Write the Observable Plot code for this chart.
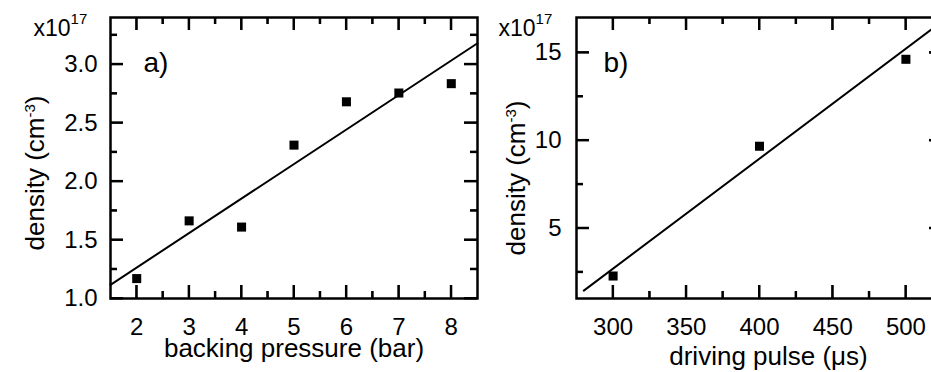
<!DOCTYPE html>
<html><head><meta charset="utf-8">
<script src="https://cdn.jsdelivr.net/npm/d3@7"></script>
<script src="https://cdn.jsdelivr.net/npm/@observablehq/plot@0.6"></script>
<style>
html,body{margin:0;padding:0;background:#fff;overflow:hidden;}
#wrap{position:relative;width:931px;height:372px;overflow:hidden;}
#a,#b{position:absolute;top:0;height:372px;}
#a{left:0;width:490px;}
#b{left:470px;width:500px;}
svg{max-width:none !important;}
</style></head><body><div id="wrap"><div id="a"></div><div id="b"></div></div>
<script>
// Panel a data
const pressure = [2, 3, 4, 5, 6, 7, 8];
const densityA = [1.17, 1.663, 1.61, 2.31, 2.68, 2.755, 2.835];
const fitAx = [1.5, 8.5];
const fitAy = [1.117, 3.18];
const xMajorA = [2, 3, 4, 5, 6, 7, 8];
const xMinorA = [2.5, 3.5, 4.5, 5.5, 6.5, 7.5];
const yMajorA = [1.0, 1.5, 2.0, 2.5, 3.0];
const yMinorA = [1.25, 1.75, 2.25, 2.75, 3.25];

// Panel b data
const pulse = [300, 400, 500];
const densityB = [2.28, 9.67, 14.62];
const fitBx = [280, 525];
const fitBy = [1.45, 16.8];
const xMajorB = [300, 350, 400, 450, 500];
const xMinorB = [325, 375, 425, 475];
const yMajorB = [5, 10, 15];
const yMinorB = [2.5, 7.5, 12.5];

const FONT = "'Liberation Sans', Arial, Helvetica, sans-serif";
const H = 372, MT = 17, MB = 74;
const MAJ = 13, MIN = 7;

function panel(o) {
  const fh = H - MT - MB;
  const fw = o.width - o.ml - o.mr;
  const rx = {x1: d => d, x2: d => d, insetLeft: -1, insetRight: -1, fill: "black"};
  const ry = {y1: d => d, y2: d => d, insetTop: -1, insetBottom: -1, fill: "black"};
  const ticks = [
    Plot.rect(o.xMajor, {...rx, insetTop: fh - MAJ}),
    Plot.rect(o.xMinor, {...rx, insetTop: fh - MIN}),
    Plot.rect(o.xMajor, {...rx, insetBottom: fh - MAJ}),
    Plot.rect(o.xMinor, {...rx, insetBottom: fh - MIN}),
    Plot.rect(o.yMajor, {...ry, insetRight: fw - MAJ}),
    Plot.rect(o.yMinor, {...ry, insetRight: fw - MIN}),
    Plot.rect(o.yMajor, {...ry, insetLeft: fw - MAJ}),
    Plot.rect(o.yMinor, {...ry, insetLeft: fw - MIN}),
    Plot.tickX(o.xMajor, {x: d => d, insetTop: fh - MAJ, stroke: "black", strokeWidth: 2}),
    Plot.tickX(o.xMinor, {x: d => d, insetTop: fh - MIN, stroke: "black", strokeWidth: 2}),
    Plot.tickX(o.xMajor, {x: d => d, insetBottom: fh - MAJ, stroke: "black", strokeWidth: 2}),
    Plot.tickX(o.xMinor, {x: d => d, insetBottom: fh - MIN, stroke: "black", strokeWidth: 2}),
    Plot.tickY(o.yMajor, {y: d => d, insetRight: fw - MAJ, stroke: "black", strokeWidth: 2}),
    Plot.tickY(o.yMinor, {y: d => d, insetRight: fw - MIN, stroke: "black", strokeWidth: 2}),
    Plot.tickY(o.yMajor, {y: d => d, insetLeft: fw - MAJ, stroke: "black", strokeWidth: 2}),
    Plot.tickY(o.yMinor, {y: d => d, insetLeft: fw - MIN, stroke: "black", strokeWidth: 2})
  ];
  const labels = [
    Plot.axisX(o.xMajor, {anchor: "bottom", tickSize: 0, tickPadding: 19, fontSize: 24, tickFormat: o.xFmt, label: null}),
    Plot.axisY(o.yMajor, {anchor: "left", tickSize: 0, tickPadding: o.yPad, fontSize: 24, tickFormat: o.yFmt, label: null})
  ];
  const fit = o.fitX.map((x, i) => ({x, y: o.fitY[i]}));
  const pts = o.xs.map((x, i) => ({x, y: o.ys[i]}));
  const svg = Plot.plot({
    width: o.width, height: H,
    marginLeft: o.ml, marginRight: o.mr, marginTop: MT, marginBottom: MB,
    x: {domain: o.xDomain},
    y: {domain: o.yDomain},
    style: {fontFamily: FONT, background: "transparent", color: "black"},
    marks: [
      Plot.line(fit, {x: "x", y: "y", stroke: "black", strokeWidth: 2}),
      Plot.dot(pts, {x: "x", y: "y", symbol: "square", r: 5.1, fill: "black"}),
      Plot.frame({stroke: "black", strokeWidth: 2.5}),
      ...labels,
      Plot.text([o.tag], {text: d => d, frameAnchor: "top-left", dx: o.tagDx, dy: 35, lineAnchor: "top", textAnchor: "start", fontSize: 28}),
      Plot.text(["x10^17"], {text: d => d, frameAnchor: "top-left", dx: o.expDx, dy: 2, lineAnchor: "top", textAnchor: "start", fontSize: 23}),
      Plot.text([o.xTitle], {text: d => d, frameAnchor: "bottom", dx: o.xtDx, dy: o.xtDy, lineAnchor: "top", textAnchor: "middle", fontSize: 26}),
      Plot.text(["density (cm^-3)"], {text: d => d, frameAnchor: "left", rotate: -90, dx: o.ytDx, dy: o.ytDy, lineAnchor: "middle", textAnchor: "middle", fontSize: 26}),
      ...ticks
    ]
  });
  supify(svg, "x10^17", "x10", "17", null, 15, 11.5);
  supify(svg, "density (cm^-3)", "density (cm", "-3", ")", 15, 9);
  return svg;
}

function supify(svg, full, base, sup, tail, size, shift) {
  d3.select(svg).selectAll("text").filter(function () { return this.textContent === full; }).each(function () {
    const t = d3.select(this);
    t.text(null);
    t.append("tspan").text(base);
    t.append("tspan").attr("font-size", size).attr("dy", -shift).text(sup);
    if (tail) t.append("tspan").attr("dy", shift).text(tail);
  });
}

document.getElementById("a").appendChild(panel({
  width: 490, ml: 110, mr: 13,
  xDomain: [1.5, 8.5], yDomain: [1, 3.4],
  xMajor: xMajorA, xMinor: xMinorA, yMajor: yMajorA, yMinor: yMinorA,
  xFmt: d3.format("d"), yFmt: d3.format(".1f"), yPad: 13,
  xs: pressure, ys: densityA, fitX: fitAx, fitY: fitAy,
  tag: "a)", tagDx: 33, expDx: -77,
  xTitle: "backing pressure (bar)", xtDx: 0, xtDy: 40,
  ytDx: -75, ytDy: 15
}));

document.getElementById("b").appendChild(panel({
  width: 500, ml: 106, mr: 28,
  xDomain: [275, 525], yDomain: [1, 17],
  xMajor: xMajorB, xMinor: xMinorB, yMajor: yMajorB, yMinor: yMinorB,
  xFmt: d3.format("d"), yFmt: d3.format("d"), yPad: 15,
  xs: pulse, ys: densityB, fitX: fitBx, fitY: fitBy,
  tag: "b)", tagDx: 27, expDx: -78,
  xTitle: "driving pulse (\u03bcs)", xtDx: 9, xtDy: 48,
  ytDx: -60, ytDy: 20
}));
</script></body></html>
